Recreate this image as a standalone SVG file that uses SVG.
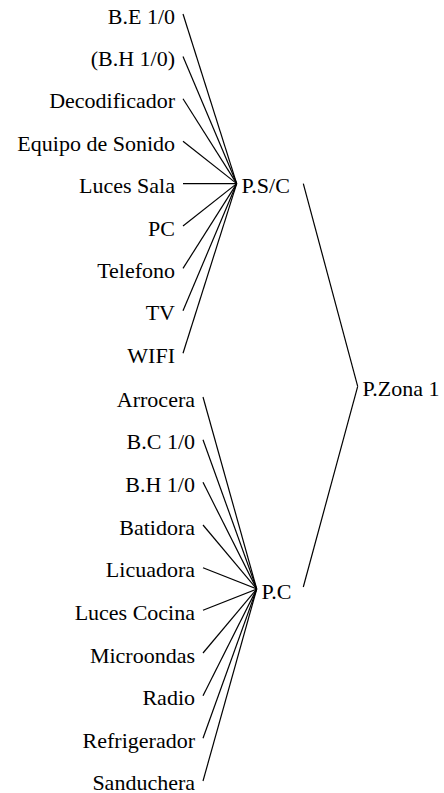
<svg xmlns="http://www.w3.org/2000/svg" width="444" height="793" viewBox="0 0 444 793">
<style>
text{font-size:22px;fill:#000}
.l{text-anchor:end}
line{stroke:#000;stroke-width:1.2}
</style>
<rect width="444" height="793" fill="#fff"/>
<g id="connectors">
<line x1="183" y1="14" x2="236.7" y2="183.6"/>
<line x1="183" y1="56.4" x2="236.7" y2="183.6"/>
<line x1="183" y1="98.8" x2="236.7" y2="183.6"/>
<line x1="183" y1="141.2" x2="236.7" y2="183.6"/>
<line x1="183" y1="183.6" x2="236.7" y2="183.6"/>
<line x1="183" y1="226" x2="236.7" y2="183.6"/>
<line x1="183" y1="268.4" x2="236.7" y2="183.6"/>
<line x1="183" y1="310.8" x2="236.7" y2="183.6"/>
<line x1="183" y1="353.2" x2="236.7" y2="183.6"/>
<line x1="203" y1="397" x2="256.7" y2="589"/>
<line x1="203" y1="439.7" x2="256.7" y2="589"/>
<line x1="203" y1="482.3" x2="256.7" y2="589"/>
<line x1="203" y1="525" x2="256.7" y2="589"/>
<line x1="203" y1="567.7" x2="256.7" y2="589"/>
<line x1="203" y1="610.3" x2="256.7" y2="589"/>
<line x1="203" y1="653" x2="256.7" y2="589"/>
<line x1="203" y1="695.7" x2="256.7" y2="589"/>
<line x1="203" y1="738.3" x2="256.7" y2="589"/>
<line x1="203" y1="781" x2="256.7" y2="589"/>
<line x1="303.3" y1="183.6" x2="357.7" y2="386.3"/>
<line x1="303.3" y1="587" x2="357.7" y2="386.3"/>
</g>
<g font-family="Liberation Serif, Times New Roman, serif">
<g id="n-be"><text class="l" x="175" y="23.5">B.E 1/0</text></g>
<g id="n-bh"><text class="l" x="175" y="65.9">(B.H 1/0)</text></g>
<g id="n-deco"><text class="l" x="175" y="108.3">Decodificador</text></g>
<g id="n-equipo"><text class="l" x="175" y="150.7">Equipo de Sonido</text></g>
<g id="n-lucessala"><text class="l" x="175" y="193.1">Luces Sala</text></g>
<g id="n-pc"><text class="l" x="175" y="235.5">PC</text></g>
<g id="n-telefono"><text class="l" x="175" y="277.9">Telefono</text></g>
<g id="n-tv"><text class="l" x="175" y="320.3">TV</text></g>
<g id="n-wifi"><text class="l" x="175" y="362.7">WIFI</text></g>
<g id="n-psc"><text x="241.5" y="192.8">P.S/C</text></g>
<g id="n-arrocera"><text class="l" x="195" y="406.5">Arrocera</text></g>
<g id="n-bc"><text class="l" x="195" y="449.2">B.C 1/0</text></g>
<g id="n-bh2"><text class="l" x="195" y="491.8">B.H 1/0</text></g>
<g id="n-batidora"><text class="l" x="195" y="534.5">Batidora</text></g>
<g id="n-licuadora"><text class="l" x="195" y="577.2">Licuadora</text></g>
<g id="n-lucescocina"><text class="l" x="195" y="619.8">Luces Cocina</text></g>
<g id="n-microondas"><text class="l" x="195" y="662.5">Microondas</text></g>
<g id="n-radio"><text class="l" x="195" y="705.2">Radio</text></g>
<g id="n-refri"><text class="l" x="195" y="747.8">Refrigerador</text></g>
<g id="n-sanduchera"><text class="l" x="195" y="789.5">Sanduchera</text></g>
<g id="n-pc2"><text x="261.5" y="598.5">P.C</text></g>
<g id="n-pzona"><text x="362.5" y="396">P.Zona 1</text></g>
</g>
</svg>
